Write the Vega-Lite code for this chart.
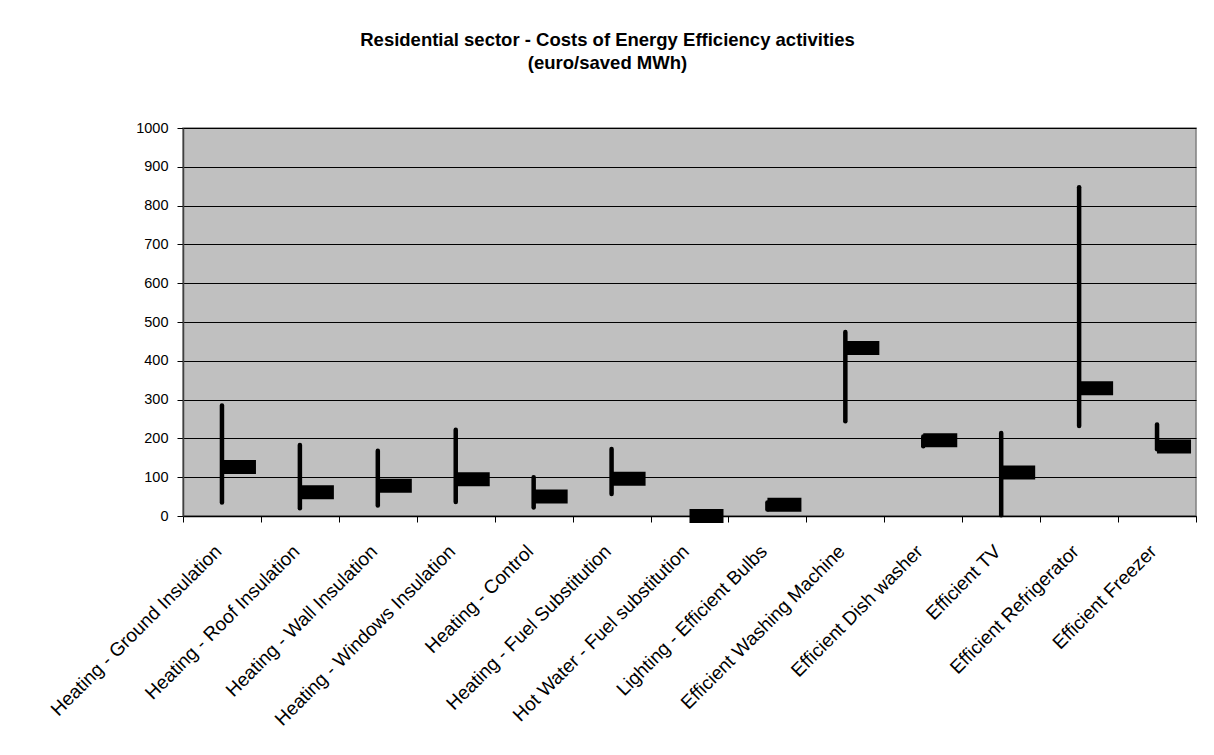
{
  "$schema": "https://vega.github.io/schema/vega-lite/v6.json",
  "width": 1013,
  "height": 388,
  "autosize": {"type": "none"},
  "padding": {"left": 183, "top": 128, "right": 18, "bottom": 239},
  "background": "white",
  "title": {
    "text": ["Residential sector - Costs of Energy Efficiency activities", "(euro/saved MWh)"],
    "font": "Liberation Sans",
    "fontSize": 18.5,
    "fontWeight": "bold",
    "color": "black",
    "anchor": "middle",
    "dx": -82,
    "offset": 48,
    "lineHeight": 23
  },
  "config": {
    "font": "Liberation Sans",
    "view": {"fill": "#C0C0C0", "stroke": "#808080", "strokeWidth": 1.5}
  },
  "data": {
    "values": [
      {"activity": "Heating - Ground Insulation", "low": 35, "high": 285, "close": 126},
      {"activity": "Heating - Roof Insulation", "low": 20, "high": 183, "close": 61},
      {"activity": "Heating - Wall Insulation", "low": 27, "high": 168, "close": 78},
      {"activity": "Heating - Windows Insulation", "low": 36, "high": 222, "close": 95},
      {"activity": "Heating - Control", "low": 22, "high": 100, "close": 50},
      {"activity": "Heating - Fuel Substitution", "low": 57, "high": 173, "close": 96},
      {"activity": "Hot Water - Fuel substitution", "low": null, "high": null, "close": 0},
      {"activity": "Lighting - Efficient Bulbs", "low": 17, "high": 35, "close": 29},
      {"activity": "Efficient Washing Machine", "low": 244, "high": 474, "close": 433},
      {"activity": "Efficient Dish washer", "low": 180, "high": 205, "close": 195},
      {"activity": "Efficient TV", "low": 2, "high": 214, "close": 112},
      {"activity": "Efficient Refrigerator", "low": 232, "high": 847, "close": 329},
      {"activity": "Efficient Freezer", "low": 172, "high": 236, "close": 179}
    ]
  },
  "encoding": {
    "x": {
      "field": "activity",
      "type": "nominal",
      "sort": ["Heating - Ground Insulation", "Heating - Roof Insulation", "Heating - Wall Insulation", "Heating - Windows Insulation", "Heating - Control", "Heating - Fuel Substitution", "Hot Water - Fuel substitution", "Lighting - Efficient Bulbs", "Efficient Washing Machine", "Efficient Dish washer", "Efficient TV", "Efficient Refrigerator", "Efficient Freezer"],
      "scale": {"paddingInner": 0, "paddingOuter": 0},
      "axis": {
        "title": null,
        "labelAngle": -45,
        "labelAlign": "right",
        "labelBaseline": "middle",
        "labelFontSize": 19,
        "labelPadding": 26,
        "labelOffset": -4,
        "labelLimit": 0,
        "labelOverlap": false,
        "labelColor": "black",
        "tickBand": "extent",
        "tickSize": 6,
        "tickColor": "black",
        "domainColor": "black",
        "domainWidth": 1.5,
        "grid": false
      }
    }
  },
  "layer": [
    {
      "mark": {"type": "rule", "strokeWidth": 4.5, "strokeCap": "round", "color": "black"},
      "encoding": {
        "y": {
          "field": "low",
          "type": "quantitative",
          "scale": {"domain": [0, 1000], "nice": false},
          "axis": {
            "title": null,
            "values": [0, 100, 200, 300, 400, 500, 600, 700, 800, 900, 1000],
            "format": "d",
            "grid": true,
            "gridColor": "black",
            "gridWidth": 1,
            "gridOpacity": 1,
            "domainColor": "#404040",
            "domainWidth": 1.5,
            "tickColor": "black",
            "tickSize": 6,
            "labelFontSize": 14.5,
            "labelPadding": 9,
            "labelOverlap": false,
            "labelColor": "black"
          }
        },
        "y2": {"field": "high"}
      }
    },
    {
      "mark": {"type": "tick", "thickness": 14, "size": 34, "xOffset": 17, "color": "black", "opacity": 1},
      "encoding": {
        "y": {
          "field": "close",
          "type": "quantitative",
          "scale": {"domain": [0, 1000], "nice": false},
          "axis": {
            "title": null,
            "values": [0, 100, 200, 300, 400, 500, 600, 700, 800, 900, 1000],
            "format": "d",
            "grid": true,
            "gridColor": "black",
            "gridWidth": 1,
            "gridOpacity": 1,
            "domainColor": "#404040",
            "domainWidth": 1.5,
            "tickColor": "black",
            "tickSize": 6,
            "labelFontSize": 14.5,
            "labelPadding": 9,
            "labelOverlap": false,
            "labelColor": "black"
          }
        }
      }
    }
  ]
}
